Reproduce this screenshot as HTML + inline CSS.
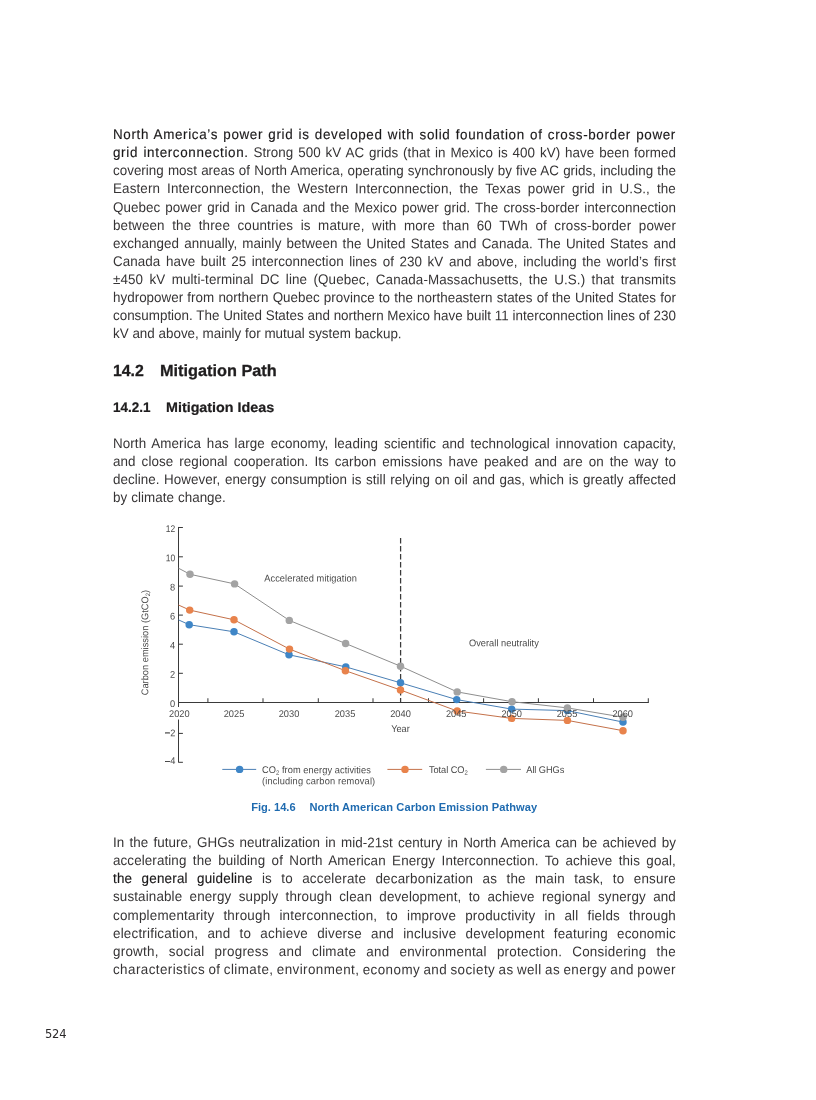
<!DOCTYPE html>
<html lang="en"><head><meta charset="utf-8"><title>Mitigation Path</title>
<style>
html,body{margin:0;padding:0;background:#fff;overflow:hidden}
body{width:816px;height:1100px;position:relative;overflow:hidden;font-family:"Liberation Sans",sans-serif;color:#363435}
.ln{position:absolute;left:113.2px;font-size:14.0px;line-height:18px;height:18px;white-space:nowrap;transform:scaleX(0.9571) rotate(0.03deg);transform-origin:0 0}
.ln b{font-weight:normal;color:#1a1819;-webkit-text-stroke:0.14px #1a1819}
.hd{position:absolute;margin:0;white-space:nowrap;color:#1f1d1e;font-weight:bold;transform-origin:0 0}
.hd span{position:absolute;top:0;transform-origin:0 0;display:block}
h2.hd{font-size:16.1px;line-height:20px;top:360px;left:0;-webkit-text-stroke:0.28px #1f1d1e}
h3.hd{font-size:13.8px;line-height:18px;top:399px;left:0;-webkit-text-stroke:0.22px #1f1d1e}
h2 .n{left:112.9px;transform:scaleX(0.985) rotate(0.03deg)} h2 .t{left:159.8px;transform:scaleX(1.012) rotate(0.03deg)}
h3 .n{left:112.9px;transform:scaleX(0.975) rotate(0.03deg)} h3 .t{left:166.2px;transform:scaleX(1.037) rotate(0.03deg)}
.cap{position:absolute;left:251.2px;top:799.2px;font-size:11.1px;line-height:16px;font-weight:bold;color:#1f6bb0;white-space:nowrap}
.cap span{display:inline-block} .cap .n{width:58.2px} .cap .t{letter-spacing:0.07px}
.pn{position:absolute;left:44.9px;top:1026.3px;font-family:"DejaVu Sans","Liberation Sans",sans-serif;font-size:11.5px;letter-spacing:-0.1px;line-height:16px;color:#2a2829}
svg{position:absolute;left:0;top:0}
svg text{font-family:"Liberation Sans",sans-serif;font-size:9.75px;fill:#4a4a4a}
</style></head><body>
<div class="ln" style="top:125.00px;letter-spacing:0.037px;word-spacing:0.930px"><b style="letter-spacing:0.685px">North America’s power grid is developed with solid foundation of cross-border power</b></div>
<div class="ln" style="top:143.00px;letter-spacing:0.046px;word-spacing:1.151px"><b style="letter-spacing:0.694px">grid interconnection.</b> Strong 500 kV AC grids (that in Mexico is 400 kV) have been formed</div>
<div class="ln" style="top:161.00px;letter-spacing:0.017px;word-spacing:0.413px">covering most areas of North America, operating synchronously by five AC grids, including the</div>
<div class="ln" style="top:179.00px;letter-spacing:0.132px;word-spacing:3.306px">Eastern Interconnection, the Western Interconnection, the Texas power grid in U.S., the</div>
<div class="ln" style="top:198.00px;letter-spacing:0.055px;word-spacing:1.366px">Quebec power grid in Canada and the Mexico power grid. The cross-border interconnection</div>
<div class="ln" style="top:216.00px;letter-spacing:0.152px;word-spacing:3.788px">between the three countries is mature, with more than 60 TWh of cross-border power</div>
<div class="ln" style="top:234.00px;letter-spacing:0.055px;word-spacing:1.382px">exchanged annually, mainly between the United States and Canada. The United States and</div>
<div class="ln" style="top:252.00px;letter-spacing:0.073px;word-spacing:1.814px">Canada have built 25 interconnection lines of 230 kV and above, including the world’s first</div>
<div class="ln" style="top:270.00px;letter-spacing:0.107px;word-spacing:2.669px">±450 kV multi-terminal DC line (Quebec, Canada-Massachusetts, the U.S.) that transmits</div>
<div class="ln" style="top:288.00px;letter-spacing:0.018px;word-spacing:0.459px">hydropower from northern Quebec province to the northeastern states of the United States for</div>
<div class="ln" style="top:306.00px;letter-spacing:0.003px;word-spacing:0.068px">consumption. The United States and northern Mexico have built 11 interconnection lines of 230</div>
<div class="ln" style="top:324.00px;letter-spacing:0.002px;word-spacing:0.041px">kV and above, mainly for mutual system backup.</div>
<h2 class="hd"><span class="n">14.2 </span><span class="t">Mitigation Path</span></h2>
<h3 class="hd"><span class="n">14.2.1 </span><span class="t">Mitigation Ideas</span></h3>
<div class="ln" style="top:434.00px;letter-spacing:0.086px;word-spacing:2.147px">North America has large economy, leading scientific and technological innovation capacity,</div>
<div class="ln" style="top:452.00px;letter-spacing:0.091px;word-spacing:2.266px">and close regional cooperation. Its carbon emissions have peaked and are on the way to</div>
<div class="ln" style="top:470.00px;letter-spacing:0.037px;word-spacing:0.926px">decline. However, energy consumption is still relying on oil and gas, which is greatly affected</div>
<div class="ln" style="top:488.00px;letter-spacing:0.016px;word-spacing:0.410px">by climate change.</div>
<svg width="816" height="1100" viewBox="0 0 816 1100">
<g stroke="#3a3a3a" stroke-width="1.02" fill="none" stroke-linecap="butt">
<path d="M178.5 526.95V762.5"/>
<path d="M178.0 702.4H648.8"/>
<path d="M178.5 527.5h4.4"/>
<path d="M178.5 556.8h4.4"/>
<path d="M178.5 586.1h4.4"/>
<path d="M178.5 615.1h4.4"/>
<path d="M178.5 644.2h4.4"/>
<path d="M178.5 673.3h4.4"/>
<path d="M178.5 733.4h4.4"/>
<path d="M178.5 762.3h4.4"/>
<path d="M207.9 702.4v-4.2"/>
<path d="M263 702.4v-4.2"/>
<path d="M318.3 702.4v-4.2"/>
<path d="M373 702.4v-4.2"/>
<path d="M428.5 702.4v-4.2"/>
<path d="M483.6 702.4v-4.2"/>
<path d="M538.4 702.4v-4.2"/>
<path d="M593.5 702.4v-4.2"/>
<path d="M648.3 702.4v-4.2"/>
</g>
<path d="M400.6 537.9V702.4" stroke="#3a3a3a" stroke-width="1.25" stroke-dasharray="5.5 2.5" fill="none"/>
<rect x="168" y="707" width="23" height="12.5" fill="#fff"/>
<path d="M178.5 619.9 L189.2 624.7 L234 631.8 L289 654.8 L345.8 666.9 L400.5 682.8 L456.7 699.6 L511.6 709.1 L567.4 710.6 L623 722.1" stroke="#4a7fb5" stroke-width="1" fill="none" stroke-linejoin="round"/>
<circle cx="189.2" cy="624.7" r="3.72" fill="#3f86c7"/>
<circle cx="234" cy="631.8" r="3.72" fill="#3f86c7"/>
<circle cx="289" cy="654.8" r="3.72" fill="#3f86c7"/>
<circle cx="345.8" cy="666.9" r="3.72" fill="#3f86c7"/>
<circle cx="400.5" cy="682.8" r="3.72" fill="#3f86c7"/>
<circle cx="456.7" cy="699.6" r="3.72" fill="#3f86c7"/>
<circle cx="511.6" cy="709.1" r="3.72" fill="#3f86c7"/>
<circle cx="567.4" cy="710.6" r="3.72" fill="#3f86c7"/>
<circle cx="623" cy="722.1" r="3.72" fill="#3f86c7"/>
<path d="M178.5 605 L189.7 610.1 L234 619.8 L289.5 649.1 L345.4 670.7 L400.5 690 L457.2 711.0 L511.6 718.4 L567.4 720.4 L623 730.7" stroke="#c4714a" stroke-width="1" fill="none" stroke-linejoin="round"/>
<circle cx="189.7" cy="610.1" r="3.72" fill="#e8834c"/>
<circle cx="234" cy="619.8" r="3.72" fill="#e8834c"/>
<circle cx="289.5" cy="649.1" r="3.72" fill="#e8834c"/>
<circle cx="345.4" cy="670.7" r="3.72" fill="#e8834c"/>
<circle cx="400.5" cy="690" r="3.72" fill="#e8834c"/>
<circle cx="457.2" cy="711.0" r="3.72" fill="#e8834c"/>
<circle cx="511.6" cy="718.4" r="3.72" fill="#e8834c"/>
<circle cx="567.4" cy="720.4" r="3.72" fill="#e8834c"/>
<circle cx="623" cy="730.7" r="3.72" fill="#e8834c"/>
<path d="M178.5 568.2 L190 574.3 L234.6 583.9 L289.3 620.4 L345.6 643.5 L400.5 666.2 L457.2 691.9 L512.0 701.7 L567.4 707.9 L623 717.2" stroke="#8e8e8e" stroke-width="1" fill="none" stroke-linejoin="round"/>
<circle cx="190" cy="574.3" r="3.72" fill="#a3a3a3"/>
<circle cx="234.6" cy="583.9" r="3.72" fill="#a3a3a3"/>
<circle cx="289.3" cy="620.4" r="3.72" fill="#a3a3a3"/>
<circle cx="345.6" cy="643.5" r="3.72" fill="#a3a3a3"/>
<circle cx="400.5" cy="666.2" r="3.72" fill="#a3a3a3"/>
<circle cx="457.2" cy="691.9" r="3.72" fill="#a3a3a3"/>
<circle cx="512.0" cy="701.7" r="3.72" fill="#a3a3a3"/>
<circle cx="567.4" cy="707.9" r="3.72" fill="#a3a3a3"/>
<circle cx="623" cy="717.2" r="3.72" fill="#a3a3a3"/>
<text transform="translate(175.2 532.0) rotate(0.04) scale(0.87 1)" text-anchor="end">12</text>
<text transform="translate(175.2 561.3) rotate(0.04) scale(0.87 1)" text-anchor="end">10</text>
<text transform="translate(175.2 590.6) rotate(0.04) scale(0.949 1)" text-anchor="end">8</text>
<text transform="translate(175.2 619.6) rotate(0.04) scale(0.949 1)" text-anchor="end">6</text>
<text transform="translate(175.2 648.7) rotate(0.04) scale(0.949 1)" text-anchor="end">4</text>
<text transform="translate(175.2 677.8) rotate(0.04) scale(0.949 1)" text-anchor="end">2</text>
<text transform="translate(175.2 706.9) rotate(0.04) scale(0.949 1)" text-anchor="end">0</text>
<text transform="translate(175.3 736.3) rotate(0.04) scale(0.949 1)" text-anchor="end"><tspan fill="#333" stroke="#333" stroke-width="0.45">−</tspan>2</text>
<text transform="translate(175.3 763.9) rotate(0.04) scale(0.949 1)" text-anchor="end"><tspan fill="#333" stroke="#333" stroke-width="0.45" dy="0.9">−</tspan><tspan dy="-0.9">4</tspan></text>
<text transform="translate(179.3 716.9) rotate(0.04) scale(0.949 1)" text-anchor="middle">2020</text>
<text transform="translate(234 716.9) rotate(0.04) scale(0.949 1)" text-anchor="middle">2025</text>
<text transform="translate(289 716.9) rotate(0.04) scale(0.949 1)" text-anchor="middle">2030</text>
<text transform="translate(345 716.9) rotate(0.04) scale(0.949 1)" text-anchor="middle">2035</text>
<text transform="translate(400.5 716.9) rotate(0.04) scale(0.949 1)" text-anchor="middle">2040</text>
<text transform="translate(456.2 716.9) rotate(0.04) scale(0.949 1)" text-anchor="middle">2045</text>
<text transform="translate(511.7 716.9) rotate(0.04) scale(0.949 1)" text-anchor="middle">2050</text>
<text transform="translate(567 716.9) rotate(0.04) scale(0.949 1)" text-anchor="middle">2055</text>
<text transform="translate(622.7 716.9) rotate(0.04) scale(0.949 1)" text-anchor="middle">2060</text>
<text transform="translate(400.5 732) rotate(0.04) scale(0.949 1)" text-anchor="middle">Year</text>
<text transform="translate(148.3 642.6) rotate(-89.96) scale(0.949 1)" text-anchor="middle" textLength="111.1">Carbon emission (GtCO<tspan font-size="6.3px" dy="1.65">2</tspan><tspan dy="-1.65">)</tspan></text>
<text transform="translate(264.2 581.4) rotate(0.04) scale(0.949 1)" textLength="97.8">Accelerated mitigation</text>
<text transform="translate(469 646.2) rotate(0.04) scale(0.949 1)" textLength="73.6">Overall neutrality</text>
<path d="M222.3 769.4H256.2" stroke="#4a7fb5" stroke-width="1"/>
<circle cx="239.6" cy="769.4" r="3.72" fill="#3f86c7"/>
<path d="M387.4 769.4H422.2" stroke="#c4714a" stroke-width="1"/>
<circle cx="405" cy="769.4" r="3.72" fill="#e8834c"/>
<path d="M485.9 769.4H521" stroke="#8e8e8e" stroke-width="1"/>
<circle cx="503.7" cy="769.4" r="3.72" fill="#a3a3a3"/>
<text transform="translate(261.9 773.1) rotate(0.04) scale(0.949 1)" textLength="114.8">CO<tspan font-size="6.3px" dy="1.65">2</tspan><tspan dy="-1.65"> from energy activities</tspan></text>
<text transform="translate(261.9 784.3) rotate(0.04) scale(0.949 1)" textLength="119.4">(including carbon removal)</text>
<text transform="translate(429 773.1) rotate(0.04) scale(0.949 1)" textLength="40.8">Total CO<tspan font-size="6.3px" dy="1.65">2</tspan></text>
<text transform="translate(526.3 773.1) rotate(0.04) scale(0.949 1)" textLength="40.0">All GHGs</text>
</svg>
<div class="cap"><span class="n">Fig. 14.6 </span><span class="t">North American Carbon Emission Pathway</span></div>
<div class="ln" style="top:833.00px;letter-spacing:0.058px;word-spacing:1.454px">In the future, GHGs neutralization in mid-21st century in North America can be achieved by</div>
<div class="ln" style="top:851.00px;letter-spacing:0.107px;word-spacing:2.680px">accelerating the building of North American Energy Interconnection. To achieve this goal,</div>
<div class="ln" style="top:869.00px;letter-spacing:0.224px;word-spacing:5.592px"><b style="letter-spacing:0.224px">the general guideline</b> is to accelerate decarbonization as the main task, to ensure</div>
<div class="ln" style="top:887.00px;letter-spacing:0.144px;word-spacing:3.598px">sustainable energy supply through clean development, to achieve regional synergy and</div>
<div class="ln" style="top:906.00px;letter-spacing:0.215px;word-spacing:5.371px">complementarity through interconnection, to improve productivity in all fields through</div>
<div class="ln" style="top:924.00px;letter-spacing:0.219px;word-spacing:5.467px">electrification, and to achieve diverse and inclusive development featuring economic</div>
<div class="ln" style="top:942.00px;letter-spacing:0.256px;word-spacing:6.411px">growth, social progress and climate and environmental protection. Considering the</div>
<div class="ln" style="top:960.00px;letter-spacing:0.449px;word-spacing:-0.837px">characteristics of climate, environment, economy and society as well as energy and power</div>
<div class="pn">524</div>
</body></html>
